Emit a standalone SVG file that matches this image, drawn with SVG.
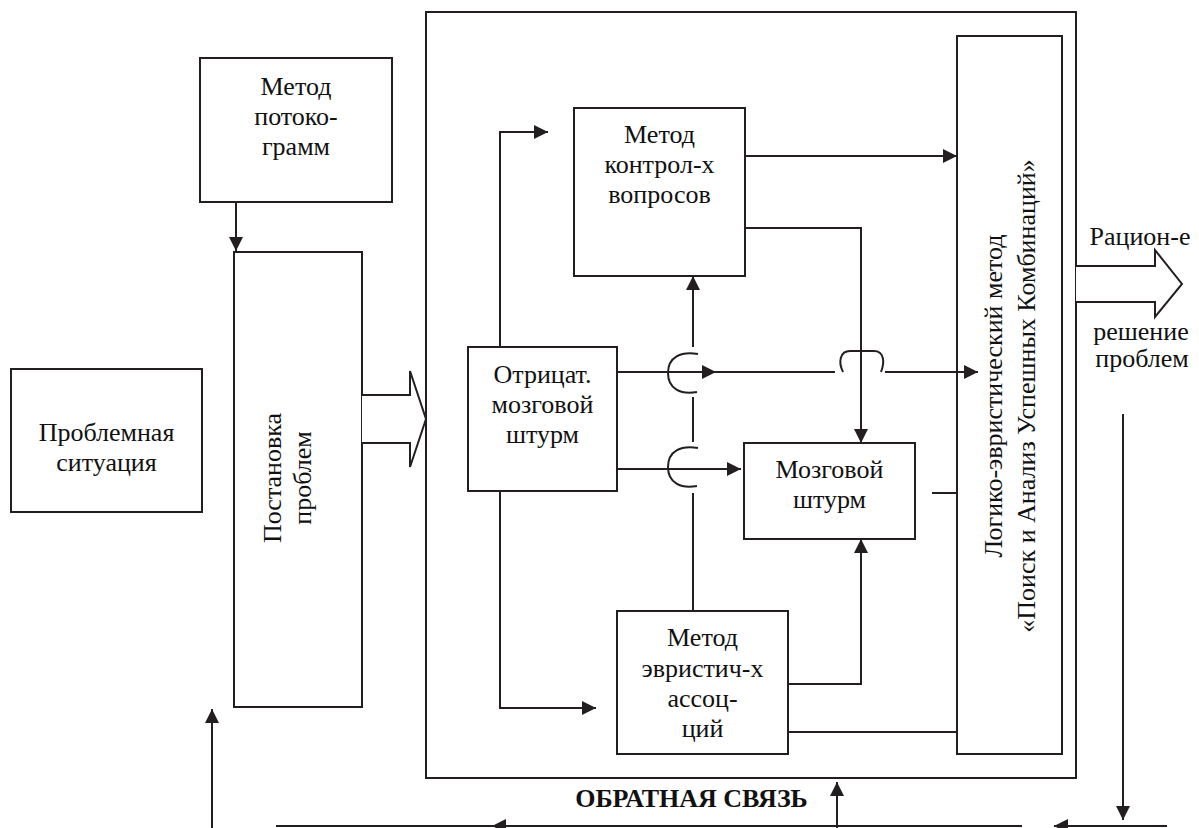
<svg xmlns="http://www.w3.org/2000/svg" width="1199" height="828" viewBox="0 0 1199 828">
<style>
.box{fill:none;stroke:#231f20;stroke-width:2}
.ln{fill:none;stroke:#231f20;stroke-width:2}
.hol{fill:#fff;stroke:#231f20;stroke-width:2}
.t{font-size:26px;fill:#111;text-anchor:middle}
</style>
<defs>
<marker id="ah" markerUnits="userSpaceOnUse" markerWidth="15" markerHeight="15" refX="14" refY="7" orient="auto" viewBox="0 0 15 14">
<path d="M0,0 L14,7 L0,14 z" fill="#231f20"/>
</marker>
</defs>
<rect width="1199" height="828" fill="#fff"/>

<g id="outer"><rect class="box" x="426" y="12" width="650" height="766"/></g>

<g id="problem-situation">
<rect class="box" x="11" y="369" width="191" height="143"/>
<text class="t" style="font-family:'Liberation Serif',serif !important" x="106.5" y="441">Проблемная</text>
<text class="t" style="font-family:'Liberation Serif',serif !important" x="106.5" y="471">ситуация</text>
</g>

<g id="flowchart-method">
<rect class="box" x="200" y="58" width="192" height="144"/>
<text class="t" style="font-family:'Liberation Serif',serif !important" x="296" y="95">Метод</text>
<text class="t" style="font-family:'Liberation Serif',serif !important" x="296" y="125">потоко-</text>
<text class="t" style="font-family:'Liberation Serif',serif !important" x="296" y="155">грамм</text>
</g>

<g id="problem-statement">
<rect class="box" x="234" y="252" width="128" height="455"/>
<text class="t" style="font-family:'Liberation Serif',serif !important" transform="translate(281,478) rotate(-90)">Постановка</text>
<text class="t" style="font-family:'Liberation Serif',serif !important" transform="translate(311,478) rotate(-90)">проблем</text>
</g>

<g id="control-questions">
<rect class="box" x="574" y="108" width="171" height="168"/>
<text class="t" style="font-family:'Liberation Serif',serif !important" x="659.5" y="143">Метод</text>
<text class="t" style="font-family:'Liberation Serif',serif !important" x="659.5" y="173">контрол-х</text>
<text class="t" style="font-family:'Liberation Serif',serif !important" x="659.5" y="203">вопросов</text>
</g>

<g id="negative-brainstorm">
<rect class="box" x="468" y="347" width="149" height="144"/>
<text class="t" style="font-family:'Liberation Serif',serif !important" x="542.5" y="383">Отрицат.</text>
<text class="t" style="font-family:'Liberation Serif',serif !important" x="542.5" y="413">мозговой</text>
<text class="t" style="font-family:'Liberation Serif',serif !important" x="542.5" y="443">штурм</text>
</g>

<g id="brainstorm">
<rect class="box" x="744" y="443" width="171" height="96"/>
<text class="t" style="font-family:'Liberation Serif',serif !important" x="829.5" y="478">Мозговой</text>
<text class="t" style="font-family:'Liberation Serif',serif !important" x="829.5" y="508">штурм</text>
</g>

<g id="heuristic-associations">
<rect class="box" x="617" y="611" width="171" height="143"/>
<text class="t" style="font-family:'Liberation Serif',serif !important" x="702.5" y="646">Метод</text>
<text class="t" style="font-family:'Liberation Serif',serif !important" x="702.5" y="677">эвристич-х</text>
<text class="t" style="font-family:'Liberation Serif',serif !important" x="702.5" y="707">ассоц-</text>
<text class="t" style="font-family:'Liberation Serif',serif !important" x="702.5" y="737">ций</text>
</g>

<g id="logic-heuristic">
<rect class="box" x="957" y="36" width="105" height="718"/>
<text class="t" style="font-family:'Liberation Serif',serif !important" transform="translate(1002,396) rotate(-90)">Логико-эвристический метод</text>
<text class="t" style="font-family:'Liberation Serif',serif !important" transform="translate(1035,396) rotate(-90)">«Поиск и Анализ Успешных Комбинаций»</text>
</g>

<g id="labels">
<text class="t" style="font-family:'Liberation Serif',serif !important" x="1140" y="245">Рацион-е</text>
<text class="t" style="font-family:'Liberation Serif',serif !important" x="1141" y="340">решение</text>
<text class="t" style="font-family:'Liberation Serif',serif !important" x="1142" y="367">проблем</text>
<text class="t" style="font-family:'Liberation Serif',serif !important;font-weight:bold" x="691.5" y="807">ОБРАТНАЯ СВЯЗЬ</text>
</g>

<g id="connectors">
<path class="ln" d="M236,202 V251" marker-end="url(#ah)"/>
<path class="hol" d="M362,395 H410 V371 L426,419 L410,467 V443 H362"/>
<path class="ln" d="M500,347 V132 H548" marker-end="url(#ah)"/>
<path class="ln" d="M745,156 H957" marker-end="url(#ah)"/>
<path class="ln" d="M745,228 H861 V443" marker-end="url(#ah)"/>
<path class="ln" d="M693,611 V493"/>
<path class="ln" d="M693,442 V397"/>
<path class="ln" d="M693,347 V276" marker-end="url(#ah)"/>
<path class="ln" d="M698,354 C681,351 668,357 668,373 C668,389 681,395 697,392"/>
<path class="ln" d="M698,448 C681,445 668,451 668,467 C668,483 681,489 697,486"/>
<path class="ln" d="M617,372 H716" marker-end="url(#ah)"/>
<path class="ln" d="M705,372 H835"/>
<path class="ln" d="M843,372 C838,362 840,351 850,351 L874,351 C884,351 885,362 881,372"/>
<path class="ln" d="M885,372 H978" marker-end="url(#ah)"/>
<path class="ln" d="M617,469 H741" marker-end="url(#ah)"/>
<path class="ln" d="M500,491 V708 H596" marker-end="url(#ah)"/>
<path class="ln" d="M788,684 H861 V539" marker-end="url(#ah)"/>
<path class="ln" d="M788,732 H957"/>
<path class="ln" d="M932,493 H957"/>
<path class="hol" d="M1076,266 H1155 V250 L1182,284 L1155,317 V302 H1076"/>
<path class="ln" d="M1123,414 V820" marker-end="url(#ah)"/>
<path class="ln" d="M1022,826 H492" marker-end="url(#ah)"/>
<path class="ln" d="M492,826 H276"/>
<path class="ln" d="M1167,826 H1054" marker-end="url(#ah)"/>
<path class="ln" d="M837,828 V782" marker-end="url(#ah)"/>
<path class="ln" d="M212,828 V709" marker-end="url(#ah)"/>
</g>
</svg>
